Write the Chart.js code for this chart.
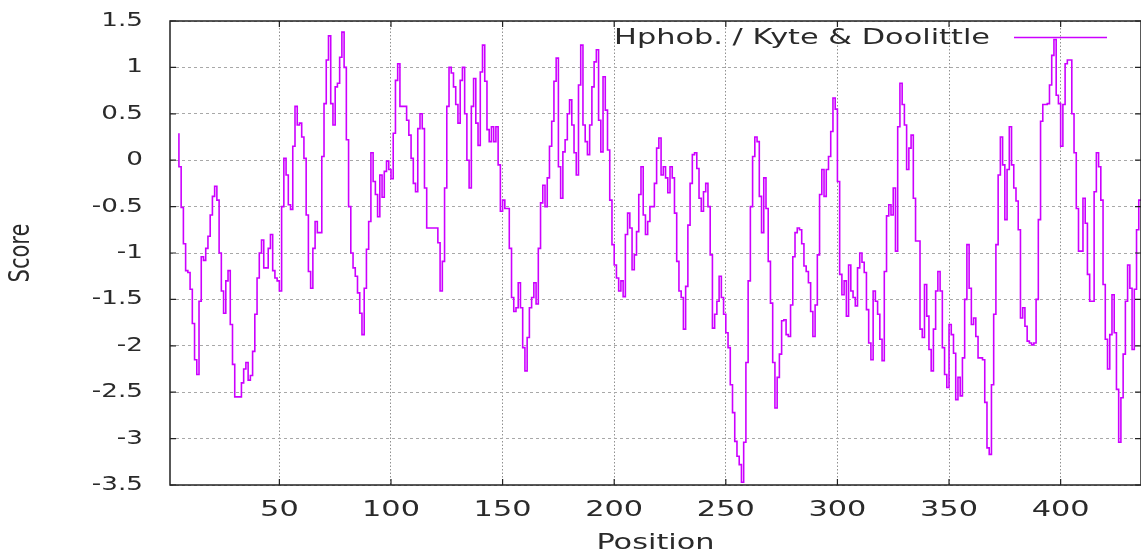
<!DOCTYPE html>
<html>
<head>
<meta charset="utf-8">
<script src="https://cdn.jsdelivr.net/npm/chart.js@4/dist/chart.umd.min.js"></script>
<style>
  html, body { margin: 0; padding: 0; background: #fff; }
</style>
</head>
<body>
<canvas id="myChart" width="1141" height="556"></canvas>
<script>
// hydropathy profile, one score per residue position (window centre)
const seriesName = "Hphob. / Kyte & Doolittle";
const firstPosition = 5;
const scores = [
  0.29, -0.07, -0.51, -0.9, -1.19,                                      // 5-9
  -1.21, -1.39, -1.76, -2.15, -2.31, -1.52, -1.04, -1.08, -0.95, -0.82, // 10
  -0.59, -0.39, -0.28, -0.43, -1.0, -1.41, -1.65, -1.3, -1.19, -1.77,   // 20
  -2.2, -2.55, -2.55, -2.55, -2.4, -2.25, -2.18, -2.37, -2.32, -2.06,   // 30
  -1.66, -1.27, -1.0, -0.86, -1.16, -1.16, -0.95, -0.8, -1.19, -1.27,   // 40
  -1.3, -1.41, -0.5, 0.02, -0.16, -0.48, -0.53, 0.15, 0.58, 0.38,       // 50
  0.4, 0.25, 0.02, -0.59, -1.2, -1.38, -0.95, -0.66, -0.78, -0.78,      // 60
  0.04, 0.61, 1.08, 1.34, 0.61, 0.38, 0.79, 0.83, 1.11, 1.38,           // 70
  1.0, 0.22, -0.5, -1.0, -1.16, -1.25, -1.43, -1.65, -1.88, -1.38,      // 80
  -0.96, -0.66, 0.08, -0.23, -0.37, -0.61, -0.16, -0.4, -0.12, -0.01,   // 90
  -0.1, -0.2, 0.29, 0.86, 1.04, 0.58, 0.58, 0.58, 0.43, 0.27,           // 100
  0.02, -0.25, -0.34, 0.34, 0.5, 0.34, -0.3, -0.73, -0.73, -0.73,       // 110
  -0.73, -0.73, -0.89, -1.41, -1.09, -0.3, 0.58, 1.0, 0.94, 0.79,       // 120
  0.6, 0.4, 0.86, 1.0, 0.5, 0.0, -0.3, 0.58, 0.88, 0.4,                 // 130
  0.16, 0.95, 1.24, 0.85, 0.33, 0.2, 0.36, 0.2, 0.36, -0.05,            // 140
  -0.55, -0.43, -0.52, -0.52, -0.95, -1.48, -1.63, -1.59, -1.32, -1.59, // 150
  -2.02, -2.27, -1.91, -1.59, -1.48, -1.32, -1.55, -0.95, -0.46, -0.27, // 160
  -0.5, -0.19, 0.15, 0.42, 0.85, 1.1, -0.07, -0.41, 0.09, 0.22,         // 170
  0.5, 0.65, 0.38, 0.08, -0.16, 0.81, 1.24, 0.38, 0.2, 0.06,            // 180
  0.38, 0.79, 1.06, 1.19, 0.43, 0.09, 0.9, 0.54, 0.11, -0.43,           // 190
  -0.91, -1.13, -1.27, -1.41, -1.3, -1.47, -0.8, -0.57, -0.73, -1.18,   // 200
  -1.02, -0.77, -0.37, -0.07, -0.59, -0.8, -0.66, -0.5, -0.5, -0.25,    // 210
  0.13, 0.24, -0.16, -0.07, -0.19, -0.35, -0.07, -0.19, -0.57, -1.09,   // 220
  -1.41, -1.48, -1.82, -1.36, -0.7, -0.25, 0.06, 0.08, -0.09, -0.41,    // 230
  -0.55, -0.34, -0.25, -0.5, -1.02, -1.81, -1.66, -1.52, -1.25, -1.48,  // 240
  -1.66, -1.86, -2.02, -2.42, -2.72, -3.03, -3.19, -3.28, -3.47, -3.04, // 250
  -2.18, -1.3, -0.5, 0.04, 0.25, 0.2, -0.39, -0.78, -0.19, -0.52,       // 260
  -1.09, -1.54, -2.18, -2.67, -2.34, -2.09, -1.73, -1.72, -1.88, -1.9,  // 270
  -1.56, -1.04, -0.78, -0.73, -0.75, -0.9, -1.14, -1.2, -1.32, -1.63,   // 280
  -1.9, -1.56, -1.02, -0.37, -0.1, -0.39, -0.1, 0.04, 0.31, 0.67,       // 290
  0.55, -0.23, -1.23, -1.45, -1.3, -1.68, -1.13, -1.41, -1.48, -1.57,   // 300
  -1.16, -1.0, -1.1, -1.21, -1.61, -1.97, -2.15, -1.41, -1.52, -1.66,   // 310
  -1.93, -2.16, -1.2, -0.6, -0.48, -0.59, -0.3, -0.98, 0.36, 0.83,      // 320
  0.6, 0.38, -0.1, 0.13, 0.27, -0.41, -0.87, -0.87, -1.82, -1.91,       // 330
  -1.34, -1.68, -2.04, -2.27, -1.82, -1.41, -1.2, -1.41, -2.02, -2.31,  // 340
  -2.45, -1.77, -1.88, -2.08, -2.58, -2.34, -2.54, -2.13, -1.5, -0.91,  // 350
  -1.38, -1.77, -1.7, -1.9, -2.13, -2.13, -2.15, -2.61, -3.1, -3.17,    // 360
  -2.42, -1.66, -0.91, -0.16, 0.25, -0.05, -0.64, -0.1, 0.36, -0.05,    // 370
  -0.3, -0.44, -0.75, -1.7, -1.59, -1.79, -1.95, -1.97, -1.99, -1.97,   // 380
  -1.5, -0.64, 0.42, 0.6, 0.6, 0.61, 0.81, 1.13, 1.3, 0.7,              // 390
  0.61, 0.15, 0.6, 1.04, 1.08, 1.08, 0.5, 0.08, -0.52, -0.98,           // 400
  -0.98, -0.41, -0.68, -1.23, -1.52, -1.52, -0.34, 0.08, -0.07, -0.43,  // 410
  -1.34, -1.93, -2.25, -1.88, -1.45, -1.86, -2.47, -3.04, -2.56, -2.09, // 420
  -1.52, -1.13, -1.38, -2.04, -1.39, -0.75, -0.43                        // 430-436
];
const xTicks = [50, 100, 150, 200, 250, 300, 350, 400];
const yTicks = [-3.5, -3, -2.5, -2, -1.5, -1, -0.5, 0, 0.5, 1, 1.5];

let positions = [];
for (let i = 0; i < scores.length; i++) {
  positions.push(firstPosition + i);
}

const lineColor = '#cc00ff';
const textColor = '#2a2a2a';
const TEXT_STRETCH = 1.38; // the original lettering is drawn wide

const canvas = document.getElementById('myChart');
const ctx = canvas.getContext('2d');

// stretch every label sideways (gnuplot-looking wide text)
const plainFillText = ctx.fillText.bind(ctx);
ctx.fillText = function (text, x, y) {
  const m = ctx.getTransform();
  ctx.save();
  ctx.translate(x, y);
  if (Math.abs(m.b) > Math.abs(m.a)) ctx.scale(1, TEXT_STRETCH); // rotated text
  else ctx.scale(TEXT_STRETCH, 1);
  plainFillText(text, 0, 0);
  ctx.restore();
};

const framePlugin = {
  id: 'frame',
  afterDraw(chart) {
    const c = chart.ctx, a = chart.chartArea;
    const xs = chart.scales.x, ys = chart.scales.y;
    c.save();
    c.strokeStyle = '#222';
    c.lineWidth = 1.5;
    c.strokeRect(a.left, a.top, a.right - a.left, a.bottom - a.top);

    // small tick marks inside the frame
    c.lineWidth = 1.2;
    c.beginPath();
    xs.ticks.forEach(t => {
      const px = xs.getPixelForValue(t.value);
      c.moveTo(px, a.bottom); c.lineTo(px, a.bottom - 6);
      c.moveTo(px, a.top); c.lineTo(px, a.top + 6);
    });
    ys.ticks.forEach(t => {
      const py = ys.getPixelForValue(t.value);
      c.moveTo(a.left, py); c.lineTo(a.left + 6, py);
      c.moveTo(a.right, py); c.lineTo(a.right - 6, py);
    });
    c.stroke();

    // key, top right: text then line sample
    c.font = '22px "DejaVu Sans"';
    c.fillStyle = textColor;
    c.textAlign = 'right';
    c.textBaseline = 'alphabetic';
    c.fillText(seriesName, a.right - 151, a.top + 23);
    c.strokeStyle = lineColor;
    c.lineWidth = 1.6;
    c.beginPath();
    c.moveTo(a.right - 127, a.top + 16.5);
    c.lineTo(a.right - 34, a.top + 16.5);
    c.stroke();
    c.restore();
  }
};

var chart = new Chart(ctx, {
  type: 'line',
  data: {
    datasets: [{
      label: seriesName,
      data: positions.map((p, i) => ({ x: p, y: scores[i] })),
      borderColor: lineColor,
      borderWidth: 1.6,
      pointRadius: 0,
      stepped: 'after',
      fill: false,
      tension: 0
    }]
  },
  options: {
    responsive: false,
    animation: false,
    layout: { padding: { top: 21, left: 0, right: 0, bottom: 0 } },
    plugins: {
      legend: { display: false },
      tooltip: { enabled: false }
    },
    scales: {
      x: {
        type: 'linear',
        min: 1,
        max: 436,
        afterBuildTicks: s => { s.ticks = xTicks.map(v => ({ value: v })); },
        afterFit: s => { s.height = 71; s.paddingLeft = 0; s.paddingRight = 0; },
        ticks: {
          color: textColor,
          font: { family: 'DejaVu Sans', size: 22 },
          padding: 12,
          maxRotation: 0,
          callback: v => String(v)
        },
        grid: { color: '#909090', lineWidth: 1, drawTicks: false },
        border: { display: false, dash: [1.5, 2] },
        title: {
          display: true,
          text: 'Position',
          color: textColor,
          font: { family: 'DejaVu Sans', size: 22, lineHeight: 1.2 },
          padding: { top: 0, bottom: 0 }
        }
      },
      y: {
        min: -3.5,
        max: 1.5,
        afterBuildTicks: s => { s.ticks = yTicks.map(v => ({ value: v })); },
        afterFit: s => { s.width = 170; s.paddingTop = 0; s.paddingBottom = 0; },
        ticks: {
          color: textColor,
          font: { family: 'DejaVu Sans', size: 19 },
          padding: 27,
          callback: v => String(v)
        },
        grid: { color: '#a8a8a8', lineWidth: 1, drawTicks: false },
        border: { display: false, dash: [3, 3] },
        title: {
          display: true,
          text: 'Score',
          color: textColor,
          font: { family: 'DejaVu Sans', size: 21, lineHeight: 1.2 },
          padding: { top: 9, bottom: 0 }
        }
      }
    }
  },
  plugins: [framePlugin]
});
</script>
</body>
</html>
